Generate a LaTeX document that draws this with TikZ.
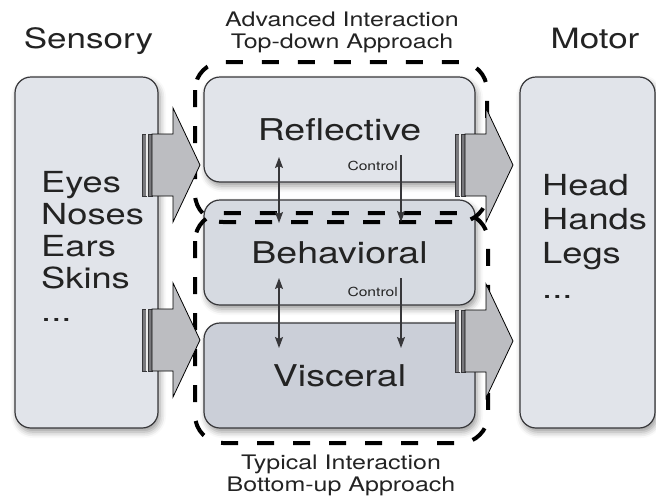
\documentclass[tikz,border=0pt]{standalone}
\usepackage{fontspec}
\setmainfont{TeX Gyre Heros}[FakeStretch=1.25]
\usetikzlibrary{shadows.blur,arrows.meta}
\definecolor{boxA}{RGB}{225,228,234}
\definecolor{boxB}{RGB}{214,218,225}
\definecolor{boxC}{RGB}{203,207,216}
\definecolor{arrfill}{RGB}{188,189,193}
\definecolor{barcol}{RGB}{120,120,124}
\definecolor{edge}{RGB}{55,55,58}
\definecolor{txt}{RGB}{35,35,35}
\newcommand\rkHdr{\fontsize{28}{32}\selectfont}
\newcommand\rkBig{\fontsize{30}{34}\selectfont}
\newcommand\rkSub{\fontsize{20}{21.5}\selectfont}
\newcommand\rkLst{\fontsize{29}{32.7}\selectfont}
\newcommand\rkCtl{\fontsize{12.5}{14}\selectfont}
\begin{document}
\begin{tikzpicture}[x=1pt,y=-1pt,
  panel/.style={draw=edge, line width=1.2pt, rounded corners=16pt, inner sep=0pt, text=txt,
    blur shadow={shadow xshift=2pt, shadow yshift=-4pt, shadow blur radius=6pt, shadow opacity=40}},
  zone/.style={draw=black, line width=4pt, dash pattern=on 17pt off 19pt, rounded corners=28pt},
  label/.style={text=txt, inner sep=0pt},
  item/.style={text=txt, inner sep=0pt, font=\rkLst, anchor=base west},
  vlink/.style={draw=edge, line width=1.5pt, -{Stealth[length=11pt,width=8pt,inset=2pt]}},
  dlink/.style={draw=edge, line width=1.5pt, {Stealth[length=11pt,width=8pt,inset=2pt]}-{Stealth[length=11pt,width=8pt,inset=2pt]}}
]
\useasboundingbox (0,0) rectangle (656,501);

% boxes
\node[panel, fill=boxA, minimum width=143pt, minimum height=351pt] (sens) at (86.5,252.5) {};
\node[panel, fill=boxA, minimum width=135pt, minimum height=351pt] (motor) at (587.5,252.5) {};
\node[panel, fill=boxA, minimum width=271pt, minimum height=105pt, font=\rkBig] (refl) at (339.5,129.5) {Reflective};
\node[panel, fill=boxB, minimum width=271pt, minimum height=105pt, font=\rkBig] (beh) at (339.5,252.5) {Behavioral};
\node[panel, fill=boxC, minimum width=271pt, minimum height=105pt, font=\rkBig] (visc) at (339.5,375.5) {Visceral};

% dashed zones
\draw[zone] (195,62) rectangle (487,222);
\draw[zone] (195,213) rectangle (488,443);

% block arrows
\foreach \x/\y in {142/165, 142/340, 455/165, 455/341} {
  \begin{scope}[shift={(\x,\y)}]
    \fill[barcol, draw=edge, line width=0.5pt] (0,-31) rectangle (4,31);
    \fill[white!85!gray] (4,-31) rectangle (6,31);
    \fill[barcol, draw=edge, line width=0.5pt] (6,-31) rectangle (10,31);
    \draw[fill=arrfill, draw=black, line width=0.8pt, line join=miter]
      (10,-31) -- (31,-31) -- (31,-57) -- (58,0) -- (31,57) -- (31,31) -- (10,31) -- cycle;
  \end{scope}
}

% vertical links
\coordinate (a1) at (279,157); \coordinate (a2) at (279,223);
\coordinate (a3) at (279,278); \coordinate (a4) at (279,348);
\coordinate (c1) at (401,155); \coordinate (c2) at (401,222);
\coordinate (c3) at (401,278); \coordinate (c4) at (401,348);
\draw[dlink] (a1) -- (a2);
\draw[dlink] (a3) -- (a4);
\draw[vlink] (c1) -- (c2);
\draw[vlink] (c3) -- (c4);
\node[label, font=\rkCtl, anchor=base east] (ctl1) at (398,170) {Control};
\node[label, font=\rkCtl, anchor=base east] (ctl2) at (398,296) {Control};

% titles
\node[label, font=\rkHdr, anchor=base] (sensT) at (88.5,48) {Sensory};
\node[label, font=\rkHdr, anchor=base] (motT) at (595,48) {Motor};
\node[label, font=\rkSub, align=center, anchor=north] (adv) at (342,12) {Advanced Interaction\\Top-down Approach};
\node[label, font=\rkSub, align=center, anchor=north] (typ) at (341,455) {Typical Interaction\\Bottom-up Approach};

% lists
\node[item] (s1) at (41,192) {Eyes};
\node[item] (s2) at (41,224) {Noses};
\node[item] (s3) at (41,256) {Ears};
\node[item] (s4) at (41,288) {Skins};
\node[item] (s5) at (41,321) {...};
\node[item] (m1) at (542,195) {Head};
\node[item] (m2) at (542,229) {Hands};
\node[item] (m3) at (542,263) {Legs};
\node[item] (m4) at (542,298) {...};
\end{tikzpicture}
\end{document}
